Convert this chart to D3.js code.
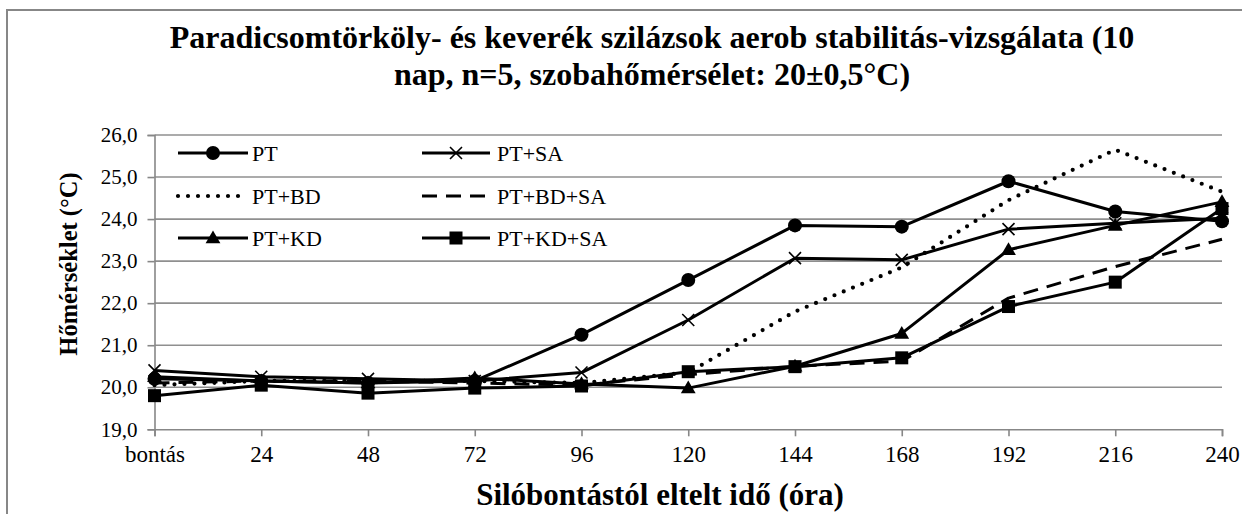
<!DOCTYPE html>
<html>
<head>
<meta charset="utf-8">
<script src="https://cdn.jsdelivr.net/npm/d3@7"></script>
<style>
  body { margin: 0; background: #fff; }
  svg text { font-family: "Liberation Serif", "Times New Roman", "Liberation Sans", Arial, sans-serif; fill: #000; }
</style>
</head>
<body>
<div id="chart"></div>
<script>
// Data
var categories = ["bontás", "24", "48", "72", "96", "120", "144", "168", "192", "216", "240"];
var yTicks = [19, 20, 21, 22, 23, 24, 25, 26];

var PT       = [20.20, 20.15, 20.10, 20.15, 21.25, 22.55, 23.85, 23.82, 24.90, 24.18, 23.95];
var PT_SA    = [20.40, 20.25, 20.20, 20.15, 20.35, 21.60, 23.07, 23.03, 23.76, 23.90, 24.02];
var PT_BD    = [20.05, 20.15, 20.15, 20.15, 20.10, 20.35, 21.80, 22.85, 24.45, 25.65, 24.65];
var PT_BD_SA = [20.10, 20.15, 20.15, 20.10, 20.05, 20.30, 20.50, 20.62, 22.12, 22.87, 23.52];
var PT_KD    = [20.25, 20.15, 20.10, 20.22, 20.08, 19.98, 20.50, 21.28, 23.27, 23.85, 24.41];
var PT_KD_SA = [19.80, 20.05, 19.86, 19.98, 20.03, 20.37, 20.49, 20.70, 21.92, 22.50, 24.25];

var seriesList = [
  { name: "PT",       values: PT,       marker: "circle",   dash: null },
  { name: "PT+SA",    values: PT_SA,    marker: "x",        dash: null },
  { name: "PT+BD",    values: PT_BD,    marker: null,       dash: "dot" },
  { name: "PT+BD+SA", values: PT_BD_SA, marker: null,       dash: "dash" },
  { name: "PT+KD",    values: PT_KD,    marker: "triangle", dash: null },
  { name: "PT+KD+SA", values: PT_KD_SA, marker: "square",   dash: null }
];

var fontList = "'Liberation Serif', 'Times New Roman', 'Liberation Sans', Arial, sans-serif";

var svgWidth = 1242;
var svgHeight = 514;
var plot = { left: 154.5, right: 1222, top: 135, bottom: 429.3 };

var svg = d3.select("#chart")
  .append("svg")
  .attr("width", svgWidth)
  .attr("height", svgHeight)
  .attr("font-family", fontList);

svg.append("rect").attr("width", svgWidth).attr("height", svgHeight).attr("fill", "#fff");

// outer frame (cut off at right and bottom)
svg.append("rect")
  .attr("x", 7).attr("y", 10)
  .attr("width", 1400).attr("height", 700)
  .attr("fill", "none")
  .attr("stroke", "#878787")
  .attr("stroke-width", 2);

// Scales
var x = d3.scalePoint().domain(categories).range([plot.left, plot.right]);
var y = d3.scaleLinear().domain([19, 26]).range([plot.bottom, plot.top]);

// Gridlines
svg.append("g")
  .selectAll("line")
  .data(yTicks.slice(1))
  .enter()
  .append("line")
  .attr("x1", plot.left).attr("x2", plot.right)
  .attr("y1", d => y(d)).attr("y2", d => y(d))
  .attr("stroke", "#8f8f8f")
  .attr("stroke-width", 1.6);

// Axes
var leftAxis = d3.axisLeft(y)
  .tickValues(yTicks)
  .tickSize(7)
  .tickPadding(10)
  .tickFormat(d => d3.format(".1f")(d).replace(".", ","));

var bottomAxis = d3.axisBottom(x).tickSize(7).tickPadding(9);

var gy = svg.append("g")
  .attr("transform", `translate(${plot.left},0)`)
  .call(leftAxis);

var gx = svg.append("g")
  .attr("transform", `translate(0,${plot.bottom})`)
  .call(bottomAxis);

[gx, gy].forEach(function(g) {
  g.attr("font-family", fontList).attr("font-size", 23);
  g.select(".domain").attr("stroke", "#878787").attr("stroke-width", 1.6);
  g.selectAll(".tick line").attr("stroke", "#878787").attr("stroke-width", 1.6);
  g.selectAll(".tick text").attr("fill", "#000");
});
gy.attr("font-size", 21);

// Lines
var line = d3.line()
  .x((d, i) => x(categories[i]))
  .y(d => y(d));

function applyDash(sel, dash) {
  if (dash === "dot") {
    sel.attr("stroke-width", 4.2)
      .attr("stroke-dasharray", "0 10")
      .attr("stroke-linecap", "round");
  } else if (dash === "dash") {
    sel.attr("stroke-width", 3)
      .attr("stroke-dasharray", "15 9");
  } else {
    sel.attr("stroke-width", 3);
  }
}

seriesList.forEach(function(s) {
  svg.append("path")
    .datum(s.values)
    .attr("d", line)
    .attr("fill", "none")
    .attr("stroke", "#000")
    .attr("stroke-linejoin", "round")
    .call(applyDash, s.dash);
});

// Markers
function drawMarker(g, type, cx, cy) {
  if (type === "circle") {
    g.append("circle").attr("cx", cx).attr("cy", cy).attr("r", 7).attr("fill", "#000");
  } else if (type === "square") {
    g.append("rect").attr("x", cx - 6.5).attr("y", cy - 6.5)
      .attr("width", 13).attr("height", 13).attr("fill", "#000");
  } else if (type === "triangle") {
    g.append("path")
      .attr("d", d3.symbol().type(d3.symbolTriangle).size(95)())
      .attr("transform", `translate(${cx},${cy + 1})`)
      .attr("fill", "#000");
  } else if (type === "x") {
    g.append("path")
      .attr("d", `M${cx - 6},${cy - 6}L${cx + 6},${cy + 6}M${cx - 6},${cy + 6}L${cx + 6},${cy - 6}`)
      .attr("stroke", "#000")
      .attr("stroke-width", 1.6);
  }
}

var markerGroup = svg.append("g");
seriesList.forEach(function(s) {
  if (!s.marker) return;
  s.values.forEach(function(v, i) {
    drawMarker(markerGroup, s.marker, x(categories[i]), y(v));
  });
});

// Legend
var legendRows = [153, 196, 238];
var legendCols = [{ x1: 178, x2: 248, tx: 252 }, { x1: 422, x2: 490, tx: 497 }];
var legend = svg.append("g");
seriesList.forEach(function(s, i) {
  var col = legendCols[i % 2];
  var ry = legendRows[Math.floor(i / 2)];
  legend.append("line")
    .attr("x1", col.x1).attr("x2", col.x2)
    .attr("y1", ry).attr("y2", ry)
    .attr("stroke", "#000")
    .call(applyDash, s.dash);
  if (s.marker) drawMarker(legend, s.marker, (col.x1 + col.x2) / 2, ry);
  legend.append("text")
    .attr("x", col.tx)
    .attr("y", ry)
    .attr("dy", "0.35em")
    .attr("font-size", 22)
    .text(s.name);
});

// Title
var title = svg.append("text")
  .attr("text-anchor", "middle")
  .attr("font-size", 32)
  .attr("font-weight", "bold");
title.append("tspan").attr("x", 652).attr("y", 48)
  .text("Paradicsomtörköly- és keverék szilázsok aerob stabilitás-vizsgálata (10");
title.append("tspan").attr("x", 652).attr("y", 85)
  .text("nap, n=5, szobahőmérsélet: 20±0,5°C)");

// Axis titles
svg.append("text")
  .attr("transform", "translate(77, 264) rotate(-90)")
  .attr("text-anchor", "middle")
  .attr("font-size", 24.5)
  .attr("font-weight", "bold")
  .text("Hőmérséklet (°C)");

svg.append("text")
  .attr("x", 660)
  .attr("y", 505)
  .attr("text-anchor", "middle")
  .attr("font-size", 31)
  .attr("font-weight", "bold")
  .text("Silóbontástól eltelt idő (óra)");
</script>
</body>
</html>
